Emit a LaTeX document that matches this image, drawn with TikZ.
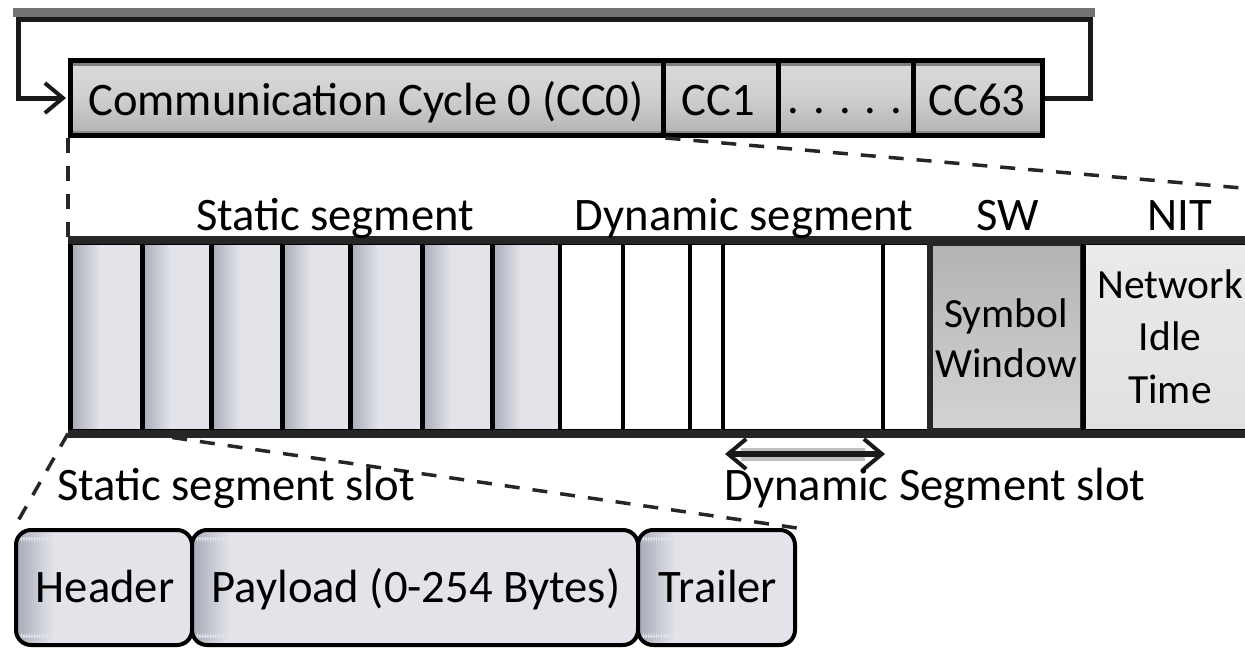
\documentclass[tikz,border=0pt]{standalone}
\usepackage{fontspec}
\setmainfont{Carlito}
\usetikzlibrary{arrows.meta,fit}
\definecolor{slotlight}{HTML}{E3E4E9}
\definecolor{slotdark}{HTML}{A7ABB8}
\begin{document}
\begin{tikzpicture}[x=1pt,y=-1pt,
  lbl/.style={anchor=base, inner sep=0pt, font=\fontsize{46.6}{50}\selectfont, text=black},
  smalllbl/.style={anchor=base, inner sep=0pt, font=\fontsize{41.5}{50}\selectfont, text=black},
  ccbox/.style={draw=black, line width=5pt, inner sep=0pt,
    top color=black!14, bottom color=black!30, middle color=black!19,
    path picture={
      \fill[black!50] (path picture bounding box.north west) rectangle ([yshift=-5pt]path picture bounding box.north east);
      \fill[black!45] (path picture bounding box.south west) rectangle ([yshift=5pt]path picture bounding box.south east);
    }},
  leftfade/.style={path picture={
      \foreach \i in {0,...,14} {
        \pgfmathtruncatemacro\pc{100*\i/14}
        \fill[slotlight!\pc!slotdark] ([xshift=#1*\i*1pt]path picture bounding box.north west)
          rectangle ([xshift=#1*\i*1pt+#1*1pt+0.4pt]path picture bounding box.south west);
      }}},
  stslot/.style={draw=black, line width=5pt, inner sep=0pt, fill=slotlight, leftfade=2},
  dyslot/.style={draw=black, line width=4pt, inner sep=0pt, fill=white},
  framebox/.style={draw=black, line width=4pt, inner sep=0pt, rounded corners=15pt, fill=slotlight, leftfade=2.6},
  dashline/.style={line width=3.5pt, dash pattern=on 15pt off 13pt, black!85},
  barbline/.style={line width=5pt, black!90}
]
\useasboundingbox (0,0) rectangle (1245,648);
\clip (0,0) rectangle (1245,648);

% top communication cycle boxes
\node[ccbox, fit={(70.5,60.5) (663,135.5)}] (cc0) {};
\node[ccbox, fit={(663,60.5) (778,135.5)}] (cc1) {};
\node[ccbox, fit={(778,60.5) (913,135.5)}] (ccd) {};
\node[ccbox, fit={(913,60.5) (1042.5,135.5)}] (cc63) {};
\node[lbl] (tcc0) at (366,115) {Communication Cycle 0 (CC0)};
\node[lbl] (tcc1) at (718,115) {CC1};
\node[lbl] (tccd) at (845,113) {. . . . .};
\node[lbl] (tcc63) at (977,115) {CC63};

% loop
\fill[black!55] (13,8) rectangle (1095,17);
\draw[barbline, shorten >=2pt, -{Straight Barb[length=18pt,width=30pt,line width=4pt]}]
  (cc63.east) -- (1090,98) -- (1090,19.5) -- (18,19.5) -- (18,98) -- (cc0.west);

% segment row
\node[stslot, fit={(70.5,242.5) (142,431)}] (s1) {};
\node[stslot, fit={(142,242.5) (211,431)}] (s2) {};
\node[stslot, fit={(211,242.5) (282,431)}] (s3) {};
\node[stslot, fit={(282,242.5) (350,431)}] (s4) {};
\node[stslot, fit={(350,242.5) (422,431)}] (s5) {};
\node[stslot, fit={(422,242.5) (492,431)}] (s6) {};
\node[stslot, fit={(492,242.5) (560,431)}] (s7) {};
\node[dyslot, fit={(560,242.5) (623,431)}] (d1) {};
\node[dyslot, fit={(623,242.5) (690,431)}] (d2) {};
\node[dyslot, fit={(690,242.5) (723,431)}] (d3) {};
\node[dyslot, fit={(723,242.5) (883,431)}] (d4) {};
\node[dyslot, fit={(883,242.5) (930,431)}] (d5) {};
\node[draw=black!85, line width=6pt, inner sep=0pt, top color=black!30, bottom color=black!17,
  fit={(930,242.5) (1083,431)}] (sw) {};
\node[draw=black, line width=5pt, inner sep=0pt, top color=black!8, middle color=black!18, bottom color=black!12,
  fit={(1083,242.5) (1300,431)}] (nit) {};
\draw[line width=8pt, black!85] (s1.north west) -- (nit.north east);
\draw[line width=8pt, black!85] (s1.south west) -- (nit.south east);

\node[lbl] (tstat) at (335,230) {Static segment};
\node[lbl] (tdyn) at (744,230) {Dynamic segment};
\node[lbl] (tsw) at (1008,230) {SW};
\node[lbl] (tnit) at (1180,230) {NIT};
\node[smalllbl] (sym1) at (1006,327) {Symbol};
\node[smalllbl] (sym2) at (1006,377) {Window};
\node[smalllbl] (net1) at (1170,298) {Network};
\node[smalllbl] (net2) at (1170,350) {Idle};
\node[smalllbl] (net3) at (1170,403) {Time};

% dashed zoom lines
\coordinate (far) at (1870,242.5);
\draw[dashline] (cc0.south west) -- (s1.north west);
\draw[dashline] (cc0.south east) -- (far);

% dynamic slot arrow
\draw[line width=13pt, black!25] ([xshift=20pt,yshift=-21pt]d4.south west) -- ([xshift=-20pt,yshift=-21pt]d4.south east);
\draw[line width=6pt, black!90, {Straight Barb[length=18pt,width=30pt,line width=4pt]}-{Straight Barb[length=18pt,width=30pt,line width=4pt]}]
  ([xshift=4pt,yshift=-21pt]d4.south west) -- ([xshift=0pt,yshift=-21pt]d4.south east);
\node[lbl] (tdslot) at (935,500) {Dynamic Segment slot};

% frame boxes
\node[framebox, fit={(16,530) (192,645)}] (hdr) {};
\node[framebox, fit={(192,530) (638,645)}] (pay) {};
\node[framebox, fit={(638,530) (795,645)}] (trl) {};
\node[lbl] (thdr) at (105,602) {Header};
\node[lbl] (tpay) at (416,602) {Payload (0-254 Bytes)};
\node[lbl] (ttrl) at (718,602) {Trailer};

\draw[dashline] (s1.south west) -- (hdr.north west);
\draw[dashline] (s1.south east) -- (trl.north east);
\node[lbl] (tsslot) at (236,500) {Static segment slot};
\end{tikzpicture}
\end{document}
